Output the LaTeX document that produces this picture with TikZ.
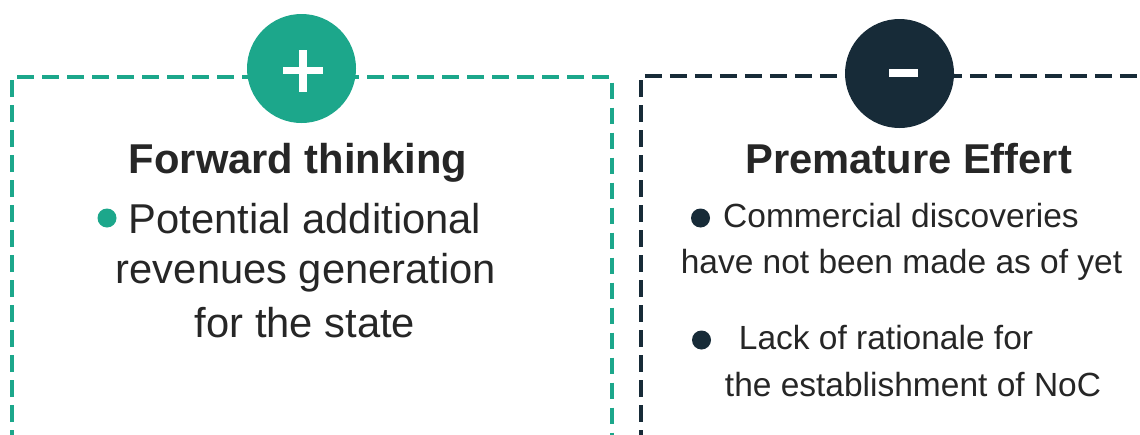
\documentclass[tikz,border=0pt]{standalone}
\usepackage{fontspec}
\setmainfont{Liberation Sans}
\definecolor{plusgreen}{RGB}{28,167,139}
\definecolor{navy}{RGB}{23,43,56}
\definecolor{txt}{RGB}{38,38,38}
\tikzset{
  boxline/.style={line width=4pt, dash pattern=on 16.7pt off 8.3pt, dash phase=2pt},
  badge/.style={circle, inner sep=0pt, minimum size=109pt},
  titletext/.style={anchor=base, text=txt, font=\fontsize{41.7}{48}\selectfont\bfseries, inner sep=0pt},
  lbody/.style={anchor=base, text=txt, font=\fontsize{41.7}{46}\selectfont, inner sep=0pt},
  rbody/.style={anchor=base, text=txt, font=\fontsize{33.5}{38}\selectfont, inner sep=0pt},
  dot/.style={circle, inner sep=0pt, minimum size=19pt},
}
\begin{document}
\begin{tikzpicture}[x=1pt,y=-1pt]
\useasboundingbox (0,0) rectangle (1140,434);
\clip (0,0) rectangle (1140,434);
\fill[white] (0,0) rectangle (1140,434);
% dashed frames
\coordinate (gbl) at (12,445);
\coordinate (gtl) at (12,77.3);
\coordinate (gtr) at (612,77.3);
\coordinate (gbr) at (612,445);
\draw[boxline, plusgreen] (gbl) -- (gtl) -- (gtr) -- (gbr);
\coordinate (dbl) at (640.5,445);
\coordinate (dtl) at (640.5,76);
\coordinate (dtr) at (1160,76);
\draw[boxline, navy, dash phase=1.7pt] (dbl) -- (dtl) -- (dtr);
% badges
\node[badge, fill=plusgreen] (plus) at (301.5,68.5) {};
\fill[white] (282.7,66.7) rectangle (322.7,74.2);
\fill[white] (299,50) rectangle (306.5,91.5);
\node[badge, fill=navy] (minus) at (899.5,73.5) {};
\fill[white] (888.6,69) rectangle (917.5,77.3);
% titles
\node[titletext] (t1) at (298,173) {Forward thinking};
\node[titletext] (t2) at (908.6,173) {Premature Effert};
% left body
\node[dot, fill=plusgreen] (b1) at (107,218) {};
\node[lbody] (l1) at (305,233) {Potential additional};
\node[lbody] (l2) at (306,283) {revenues generation};
\node[lbody] (l3) at (305,337) {for the state};
% right body
\node[dot, fill=navy] (b2) at (700.5,218) {};
\node[rbody] (r1) at (901,227) {Commercial discoveries};
\node[rbody] (r2) at (901.5,273) {have not been made as of yet};
\node[dot, fill=navy] (b3) at (701.5,340) {};
\node[rbody] (r3) at (886,349) {Lack of rationale for};
\node[rbody] (r4) at (913,396) {the establishment of NoC};
\end{tikzpicture}
\end{document}
